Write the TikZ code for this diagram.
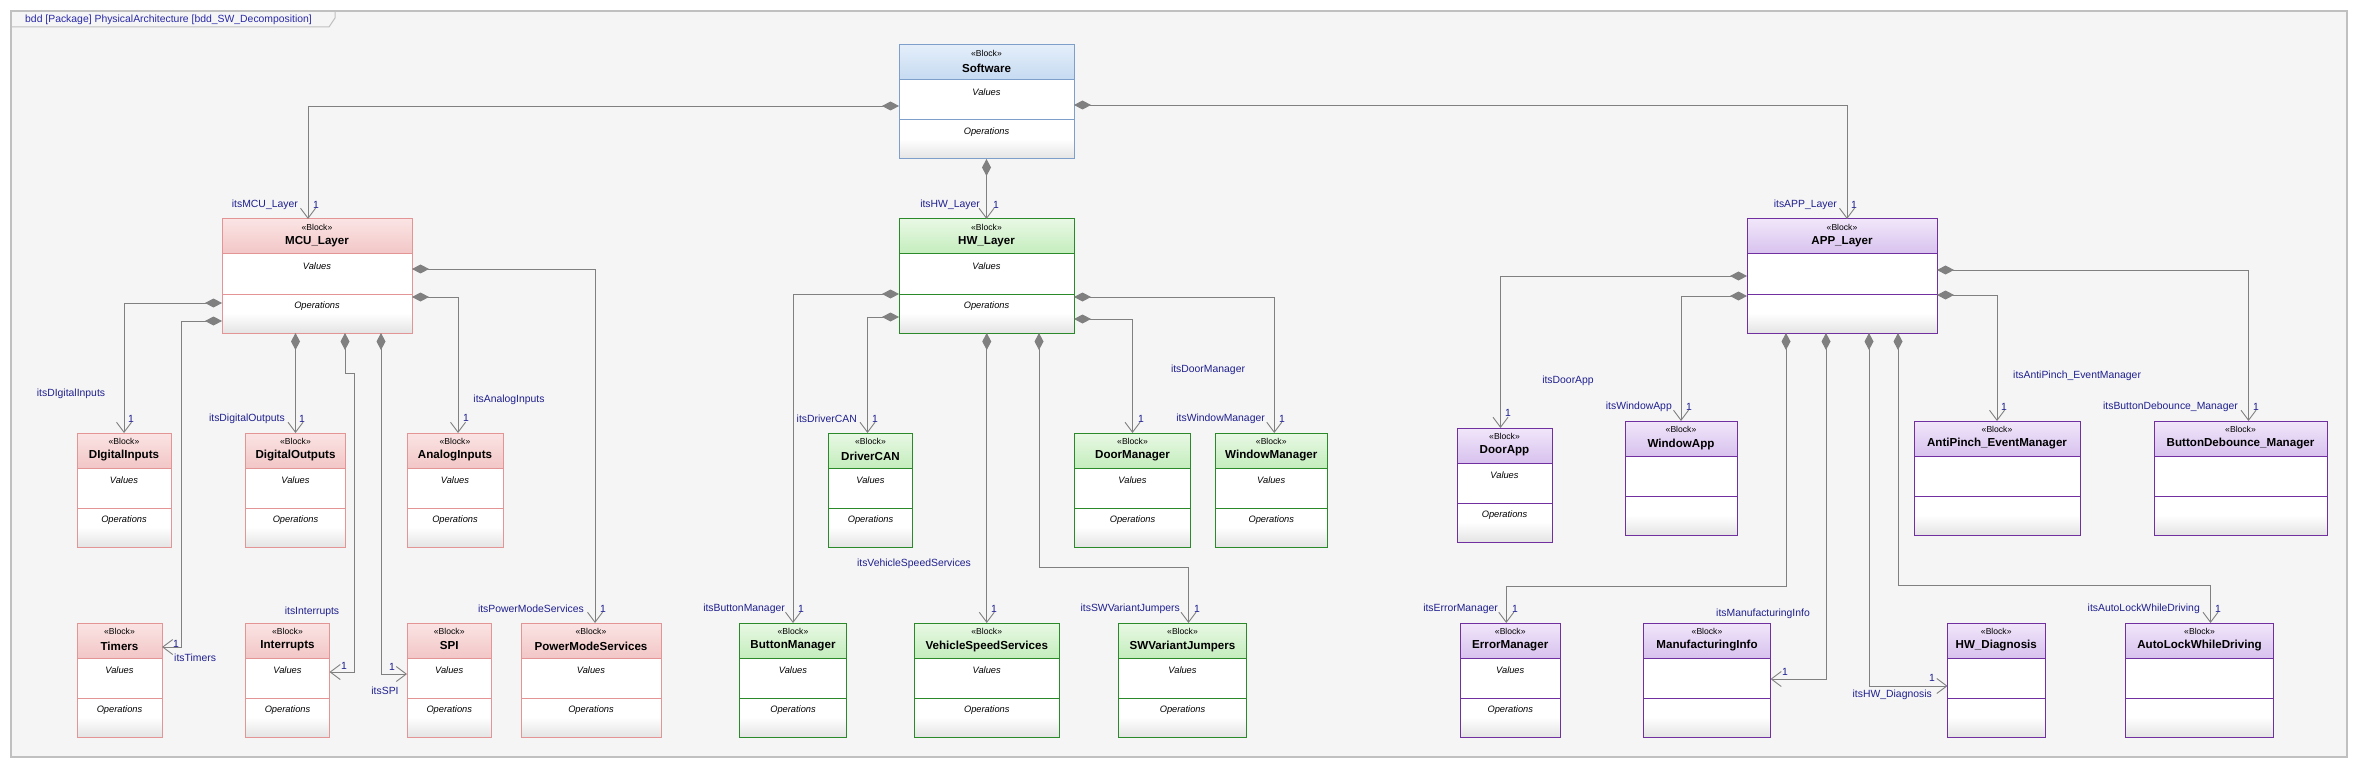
\documentclass[tikz,border=0pt]{standalone}
\usepackage{fontspec}
\setmainfont{Liberation Sans}
\usepackage{tikz}
\usetikzlibrary{arrows.meta,positioning,calc}

\definecolor{swtop}{HTML}{E4EEFA}
\definecolor{swbot}{HTML}{C5DAF1}
\definecolor{swline}{HTML}{7F9FCB}
\definecolor{mcutop}{HTML}{FBE4E4}
\definecolor{mcubot}{HTML}{F2C6C6}
\definecolor{mculine}{HTML}{E39494}
\definecolor{hwtop}{HTML}{E8F8E4}
\definecolor{hwbot}{HTML}{C4EDBD}
\definecolor{hwline}{HTML}{2A8A2A}
\definecolor{apptop}{HTML}{F1E6FA}
\definecolor{appbot}{HTML}{D8C2EE}
\definecolor{appline}{HTML}{7030A0}
\definecolor{opsgray}{HTML}{E4E4E4}
\definecolor{bggray}{HTML}{F5F5F5}
\definecolor{framegray}{HTML}{C0C0C0}
\definecolor{linkgray}{HTML}{808080}
\definecolor{labelblue}{HTML}{1F1F8F}
\definecolor{titleblue}{HTML}{2828A8}

\tikzset{
  blockshape/.style={rectangle, minimum height=114pt, inner sep=0, outer sep=0, line width=1pt},
  stereo/.style={font=\fontsize{8.6}{9}\selectfont, inner sep=0},
  blockname/.style={font=\bfseries\fontsize{11.6}{13}\selectfont, inner sep=0},
  compart/.style={font=\itshape\fontsize{9.3}{11}\selectfont, inner sep=0},
  role/.style={font=\fontsize{10.4}{12}\selectfont, text=labelblue, inner sep=0},
  comp/.style={linkgray, line width=0.9pt, {Diamond[length=17pt,width=9pt]}-{Straight Barb[length=10pt,width=15pt]}}
}

% #1 name, #2 left, #3 top, #4 width, #5 colour set, #6 title, #7 texts shown
\newcommand{\sysblock}[7]{%
  \fill[top color=#5top, bottom color=#5bot] (#2,#3) rectangle ++(#4,35);
  \fill[white] ({#2},{#3+35}) rectangle ++(#4,59);
  \fill[top color=white, bottom color=opsgray] ({#2},{#3+94}) rectangle ++(#4,20);
  \node[blockshape, draw=#5line, minimum width=#4pt] (#1) at ({#2+#4/2},{#3+57}) {};
  \draw[#5line, line width=1pt] ({#2},{#3+35}) -- ++(#4,0) ({#2},{#3+75}) -- ++(#4,0);
  \node[stereo] (#1-st) at ({#2+#4/2},{#3+8.7}) {«Block»};
  \node[blockname] (#1-nm) at ({#2+#4/2},{#3+23}) {#6};
  \ifnum#7=1
  \node[compart] (#1-val) at ({#2+#4/2},{#3+46.7}) {Values};
  \node[compart] (#1-op) at ({#2+#4/2},{#3+86.7}) {Operations};
  \fi
}

\begin{document}
\begin{tikzpicture}[x=1pt,y=-1pt]
\useasboundingbox (0,0) rectangle (2357,767);
\fill[bggray] (11,11) rectangle (2347,757);
\draw[framegray, line width=1.5pt] (11,11) rectangle (2347,757);
\draw[framegray, line width=1pt] (11,27) -- (329,27) -- (335,18) -- (335,11);
\node[role, anchor=west, text=titleblue] (title) at (25,20) {bdd [Package] PhysicalArchitecture [bdd\_SW\_Decomposition]};

\sysblock{sw}{899}{45}{175}{sw}{Software}{1}
\sysblock{mcu}{222}{219}{190}{mcu}{MCU\_Layer}{1}
\sysblock{hw}{899}{219}{175}{hw}{HW\_Layer}{1}
\sysblock{app}{1747}{219}{190}{app}{APP\_Layer}{0}

\sysblock{din}{77}{433}{94}{mcu}{DIgitalInputs}{1}
\sysblock{dout}{245.5}{433}{100}{mcu}{DigitalOutputs}{1}
\sysblock{ain}{407}{433}{96}{mcu}{AnalogInputs}{1}
\sysblock{tim}{77}{623}{85}{mcu}{Timers}{1}
\sysblock{intr}{245.5}{623}{84}{mcu}{Interrupts}{1}
\sysblock{spi}{407}{623}{84.5}{mcu}{SPI}{1}
\sysblock{pms}{521}{623}{140}{mcu}{PowerModeServices}{1}

\sysblock{can}{828.5}{433}{84}{hw}{DriverCAN}{1}
\sysblock{door}{1074.5}{433}{116}{hw}{DoorManager}{1}
\sysblock{winm}{1215.5}{433}{111.5}{hw}{WindowManager}{1}
\sysblock{btn}{739.5}{623}{107}{hw}{ButtonManager}{1}
\sysblock{vss}{914}{623}{145.5}{hw}{VehicleSpeedServices}{1}
\sysblock{swj}{1118.5}{623}{128}{hw}{SWVariantJumpers}{1}

\sysblock{dapp}{1457}{428}{95}{app}{DoorApp}{1}
\sysblock{wapp}{1625}{421}{112}{app}{WindowApp}{0}
\sysblock{apm}{1914}{421}{166}{app}{AntiPinch\_EventManager}{0}
\sysblock{bdm}{2154}{421}{173}{app}{ButtonDebounce\_Manager}{0}
\sysblock{errm}{1460}{623}{100.5}{app}{ErrorManager}{1}
\sysblock{mfi}{1643.5}{623}{127}{app}{ManufacturingInfo}{0}
\sysblock{hwd}{1947.5}{623}{97.5}{app}{HW\_Diagnosis}{0}
\sysblock{alwd}{2125.5}{623}{148}{app}{AutoLockWhileDriving}{0}

\draw[comp] ([yshift=-61pt]sw.north west) -| ([xshift=-9pt]mcu.north);
\draw[comp] ([yshift=-60pt]sw.north east) -| ([xshift=5pt]app.north);
\draw[comp] (sw.south) -- (hw.north);

\draw[comp] ([yshift=-84pt]mcu.north west) -| (din.north);
\draw[comp] ([yshift=-102pt]mcu.north west) -| ([xshift=19pt,yshift=-24pt]tim.north east) -- ([yshift=-24pt]tim.north east);
\draw[comp] (dout.north |- mcu.south) -- (dout.north);
\draw[comp] ([xshift=123pt]mcu.south west) -- ++(0,40) -| ([xshift=25pt,yshift=-49pt]intr.north east) -- ([yshift=-49pt]intr.north east);
\draw[comp] ([xshift=159pt]mcu.south west) |- ([yshift=-51pt]spi.north west);
\draw[comp] ([yshift=-50pt]mcu.north east) -| ([xshift=4pt]pms.north);
\draw[comp] ([yshift=-78pt]mcu.north east) -| ([xshift=3pt]ain.north);

\draw[comp] ([yshift=-75pt]hw.north west) -| (btn.north);
\draw[comp] ([yshift=-98pt]hw.north west) -| ([xshift=-3pt]can.north);
\draw[comp] ([yshift=-78pt]hw.north east) -| ([xshift=3pt]winm.north);
\draw[comp] ([yshift=-100pt]hw.north east) -| (door.north);
\draw[comp] (vss.north |- hw.south) -- (vss.north);
\draw[comp] ([xshift=140pt]hw.south west) -- ++(0,234) -| ([xshift=6pt]swj.north);

\draw[comp] ([yshift=-57pt]app.north west) -| ([xshift=-4pt]dapp.north);
\draw[comp] ([yshift=-77pt]app.north west) -| (wapp.north);
\draw[comp] ([yshift=-51pt]app.north east) -| ([xshift=8pt]bdm.north);
\draw[comp] ([yshift=-76pt]app.north east) -| (apm.north);
\draw[comp] ([xshift=39pt]app.south west) -- ++(0,253) -| ([xshift=-4pt]errm.north);
\draw[comp] ([xshift=79pt]app.south west) |- ([yshift=-56pt]mfi.north east);
\draw[comp] ([xshift=122pt]app.south west) |- ([yshift=-63pt]hwd.north west);
\draw[comp] ([xshift=151pt]app.south west) -- ++(0,252) -| ([xshift=11pt]alwd.north);

\node[role, anchor=east] (r-mcu) at (298,205) {itsMCU\_Layer};
\node[role] (m-mcu) at (316,205) {1};
\node[role] (r-din) at (71,394) {itsDIgitalInputs};
\node[role] (m-din) at (131,419) {1};
\node[role, anchor=east] (r-dout) at (285,419) {itsDigitalOutputs};
\node[role] (m-dout) at (302,419) {1};
\node[role] (r-ain) at (509,400) {itsAnalogInputs};
\node[role] (m-ain) at (466,418) {1};
\node[role, anchor=west] (r-tim) at (174,658) {itsTimers};
\node[role] (m-tim) at (176,644) {1};
\node[role] (r-intr) at (312,612) {itsInterrupts};
\node[role] (m-intr) at (344,666) {1};
\node[role] (r-spi) at (385,691) {itsSPI};
\node[role] (m-spi) at (392,667) {1};
\node[role, anchor=east] (r-pms) at (584,609) {itsPowerModeServices};
\node[role] (m-pms) at (603,609) {1};

\node[role, anchor=east] (r-hw) at (980,205) {itsHW\_Layer};
\node[role] (m-hw) at (996,205) {1};
\node[role, anchor=east] (r-can) at (857,419) {itsDriverCAN};
\node[role] (m-can) at (875,419) {1};
\node[role] (r-door) at (1208,370) {itsDoorManager};
\node[role] (m-door) at (1141,419) {1};
\node[role, anchor=east] (r-winm) at (1265,419) {itsWindowManager};
\node[role] (m-winm) at (1282,419) {1};
\node[role, anchor=east] (r-btn) at (785,609) {itsButtonManager};
\node[role] (m-btn) at (801,609) {1};
\node[role] (r-vss) at (914,564) {itsVehicleSpeedServices};
\node[role] (m-vss) at (994,609) {1};
\node[role, anchor=east] (r-swj) at (1180,609) {itsSWVariantJumpers};
\node[role] (m-swj) at (1197,609) {1};

\node[role, anchor=east] (r-app) at (1837,205) {itsAPP\_Layer};
\node[role] (m-app) at (1854,205) {1};
\node[role] (r-dapp) at (1568,381) {itsDoorApp};
\node[role] (m-dapp) at (1508,413) {1};
\node[role, anchor=east] (r-wapp) at (1672,407) {itsWindowApp};
\node[role] (m-wapp) at (1689,407) {1};
\node[role, anchor=west] (r-apm) at (2013,376) {itsAntiPinch\_EventManager};
\node[role] (m-apm) at (2004,407) {1};
\node[role, anchor=east] (r-bdm) at (2238,407) {itsButtonDebounce\_Manager};
\node[role] (m-bdm) at (2256,407) {1};
\node[role, anchor=east] (r-errm) at (1498,609) {itsErrorManager};
\node[role] (m-errm) at (1515,609) {1};
\node[role] (r-mfi) at (1763,614) {itsManufacturingInfo};
\node[role] (m-mfi) at (1785,672) {1};
\node[role, anchor=east] (r-hwd) at (1932,695) {itsHW\_Diagnosis};
\node[role] (m-hwd) at (1932,678) {1};
\node[role, anchor=east] (r-alwd) at (2200,609) {itsAutoLockWhileDriving};
\node[role] (m-alwd) at (2218,609) {1};
\end{tikzpicture}
\end{document}
